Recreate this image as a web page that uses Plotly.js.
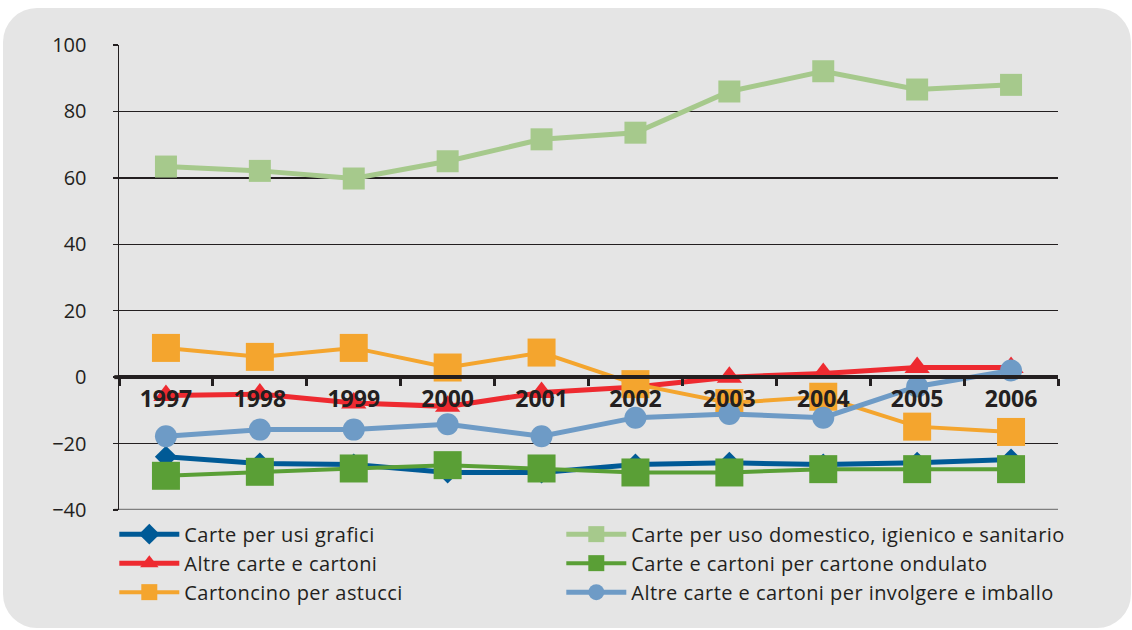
<!DOCTYPE html>
<html>
<head>
<meta charset="utf-8">
<script src="https://cdn.plot.ly/plotly-3.0.1.min.js"></script>
<style>
  html, body { margin: 0; padding: 0; background: #ffffff; }
  #wrap { position: relative; width: 1132px; height: 630px; overflow: hidden; }
  #bg2 { position: absolute; left: 3px; top: 8px; width: 1128px; height: 620px;
        background: #e5e5e5; border-radius: 34px; }
  #chart { position: absolute; left: 0; top: 0; width: 1132px; height: 630px; }
  #chart .legendtext { letter-spacing: 0.45px; }
</style>
</head>
<body>
<div id="wrap">
  <div id="bg2"></div>
  <div id="chart"></div>
</div>
<script>
const years = ['1997','1998','1999','2000','2001','2002','2003','2004','2005','2006'];
const yTicks = [-40, -20, 0, 20, 40, 60, 80, 100];

const grafici    = [-24.0, -26.0, -26.3, -28.7, -28.7, -26.3, -25.8, -26.3, -25.8, -24.8];
const domestico  = [63.4, 62.1, 59.8, 65.0, 71.6, 73.6, 86.0, 92.1, 86.6, 88.0];
const altre      = [-5.5, -5.1, -7.8, -8.8, -4.6, -3.0, 0.0, 1.1, 2.9, 2.9];
const ondulato   = [-29.7, -28.5, -27.5, -26.5, -27.5, -28.7, -28.7, -27.7, -27.7, -27.7];
const cartoncino = [8.8, 6.1, 8.8, 2.9, 7.4, -2.1, -7.8, -5.9, -14.9, -16.5];
const involgere  = [-17.8, -15.8, -15.8, -14.2, -17.8, -12.2, -11.1, -12.2, -2.8, 2.0];

const names = [
  'Carte per usi grafici',
  'Carte per uso domestico, igienico e sanitario',
  'Altre carte e cartoni',
  'Carte e cartoni per cartone ondulato',
  'Cartoncino per astucci',
  'Altre carte e cartoni per involgere e imballo'
];

function tr(name, y, color, symbol, size, width) {
  return {
    type: 'scatter', mode: 'lines+markers', name: name, x: years, y: y,
    line: { color: color, width: width },
    marker: { color: color, symbol: symbol, size: size, line: { width: 0 } },
    cliponaxis: false
  };
}

const data = [
  tr(names[0], grafici,    '#005a96', 'diamond',       17, 5),
  tr(names[1], domestico,  '#a6c98c', 'square',        22, 5),
  tr(names[2], altre,      '#ee2a30', 'triangle-up',   22, 5),
  tr(names[3], ondulato,   '#5a9f36', 'square',        28, 4),
  tr(names[4], cartoncino, '#f4a52e', 'square',        28, 4),
  tr(names[5], involgere,  '#6e9bc6', 'circle',        22, 5)
];

const yMin = -40, yMax = 100;
const layout = {
  width: 1132, height: 630,
  margin: { l: 119, r: 74, t: 45, b: 120 },
  paper_bgcolor: 'rgba(0,0,0,0)',
  plot_bgcolor: 'rgba(0,0,0,0)',
  font: { family: 'Open Sans, Noto Sans, sans-serif', color: '#231f20' },
  showlegend: true,
  legend: {
    orientation: 'h', x: -0.005, xanchor: 'left', y: -0.01, yanchor: 'top',
    entrywidth: 372, entrywidthmode: 'pixels', itemwidth: 60,
    font: { size: 20, color: '#231f20' },
    bgcolor: 'rgba(0,0,0,0)', traceorder: 'normal'
  },
  xaxis: {
    type: 'category', range: [-0.5, 9.5],
    anchor: 'free', position: (0 - yMin) / (yMax - yMin),
    showline: true, linecolor: '#231f20', linewidth: 4,
    ticks: 'outside', tickson: 'boundaries', ticklen: 7, tickwidth: 3, tickcolor: '#231f20',
    tickfont: { size: 23, color: '#231f20', weight: 700 },
    showgrid: false, zeroline: false, fixedrange: true
  },
  yaxis: {
    range: [yMin, yMax], tickvals: yTicks,
    showgrid: true, gridcolor: '#231f20', gridwidth: 1.3,
    zeroline: false,
    showline: true, linecolor: '#231f20', linewidth: 1.5,
    ticks: 'outside', ticklen: 5, tickcolor: '#231f20', tickwidth: 1.5,
    tickfont: { size: 20, color: '#231f20' },
    ticklabelstandoff: 22, fixedrange: true
  },
  shapes: [
    { type: 'line', xref: 'paper', yref: 'y', x0: -0.005, x1: 1, y0: yMin, y1: yMin,
      line: { color: '#7f7f7f', width: 2.5 }, layer: 'below' },
    { type: 'line', xref: 'paper', yref: 'y', x0: -0.005, x1: 0, y0: 0, y1: 0,
      line: { color: '#231f20', width: 4 } }
  ]
};

Plotly.newPlot('chart', data, layout, { displayModeBar: false, staticPlot: true }).then(function (gd) {
  gd.querySelectorAll('.legend [clip-path], .legend .scrollbox').forEach(function (el) {
    el.removeAttribute('clip-path');
  });
});
</script>
</body>
</html>
